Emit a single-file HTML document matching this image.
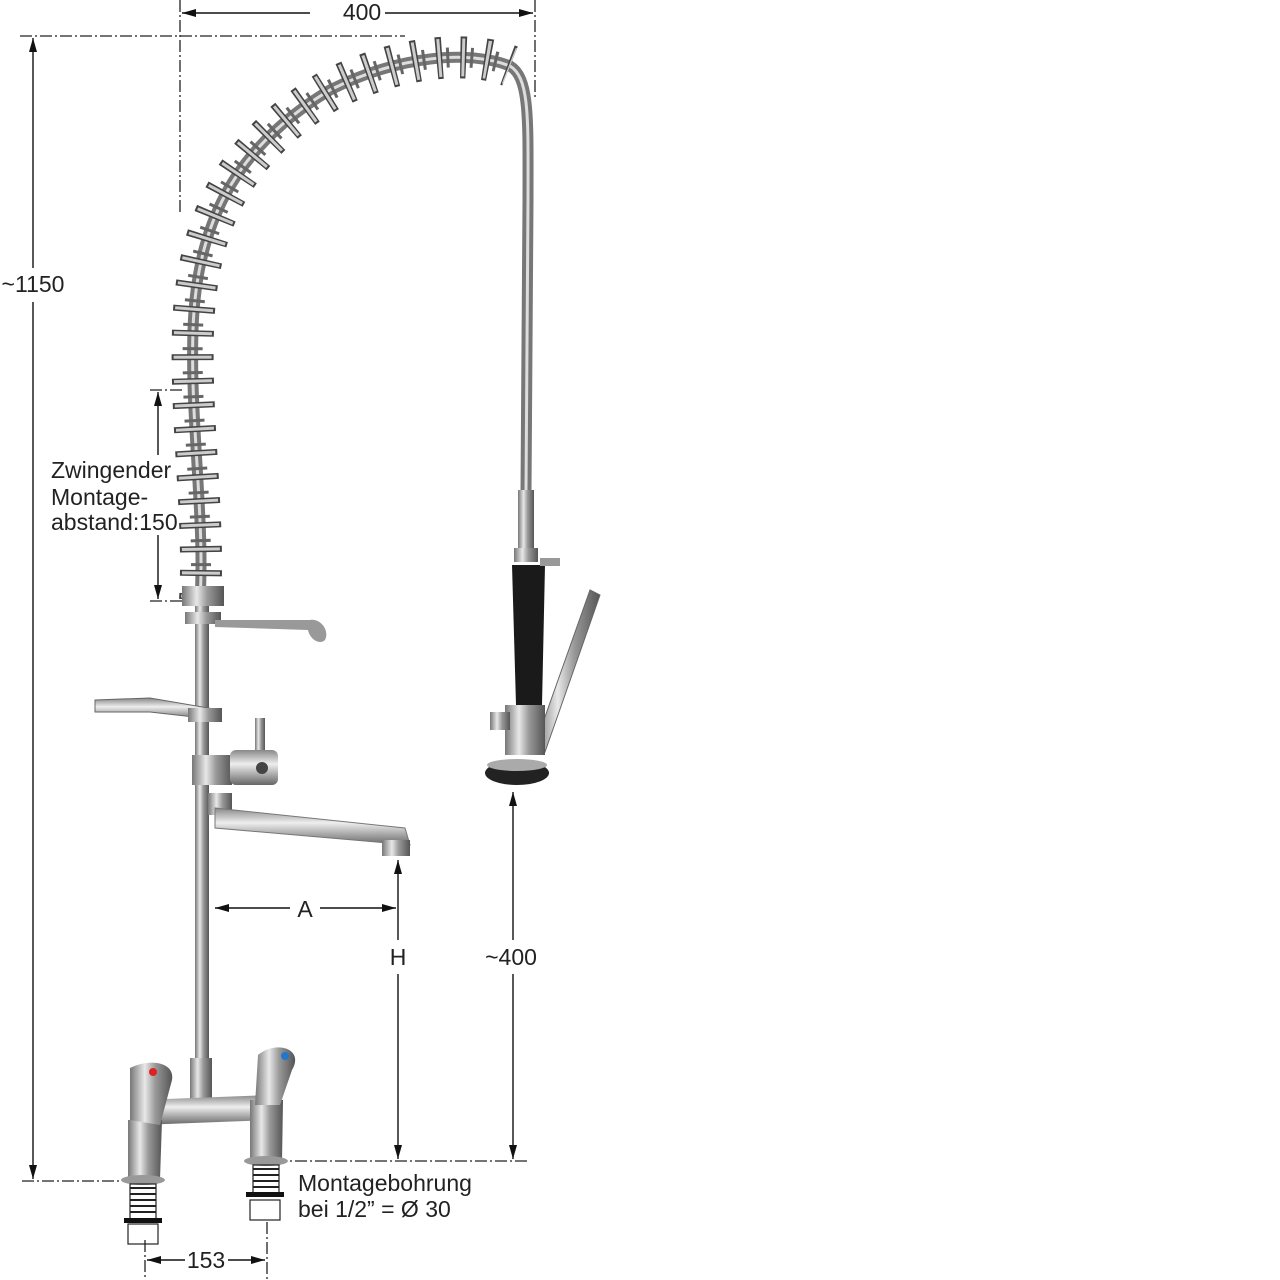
<!DOCTYPE html>
<html><head><style>
html,body{margin:0;padding:0;background:#fff;}
svg{display:block;}
text{font-family:"Liberation Sans",Arial,sans-serif;font-size:23px;fill:#222;}
</style></head><body>
<svg width="1280" height="1280" viewBox="0 0 1280 1280" xmlns="http://www.w3.org/2000/svg">
<defs>
<marker id="ar" markerWidth="14" markerHeight="8" refX="14" refY="4" orient="auto" markerUnits="userSpaceOnUse">
<path d="M0,0 L14,4 L0,8 Z" fill="#111"/></marker>
<linearGradient id="chrome" x1="0" x2="1" y1="0" y2="0">
<stop offset="0" stop-color="#777"/><stop offset="0.35" stop-color="#e8e8e8"/><stop offset="0.6" stop-color="#999"/><stop offset="1" stop-color="#555"/></linearGradient>
<linearGradient id="chromeV" x1="0" x2="0" y1="0" y2="1">
<stop offset="0" stop-color="#888"/><stop offset="0.4" stop-color="#eee"/><stop offset="1" stop-color="#666"/></linearGradient>
</defs>

<g stroke="#222" stroke-width="1.3" fill="none" stroke-dasharray="12,3,2,3">
<line x1="180" y1="0" x2="180" y2="215"/>
<line x1="535" y1="0" x2="535" y2="100"/>
<line x1="20" y1="36" x2="405" y2="36"/>
<line x1="22" y1="1181" x2="125" y2="1181"/>
<line x1="275" y1="1161" x2="530" y2="1161"/>
<line x1="150" y1="390" x2="185" y2="390"/>
<line x1="150" y1="601" x2="185" y2="601"/>
<line x1="145" y1="1240" x2="145" y2="1280"/>
<line x1="267" y1="1222" x2="267" y2="1280"/>
</g>
<g stroke="#111" stroke-width="1.4" fill="none">
<line x1="310" y1="13" x2="182" y2="13" marker-end="url(#ar)"/>
<line x1="385" y1="13" x2="533" y2="13" marker-end="url(#ar)"/>
<line x1="33" y1="268" x2="33" y2="38" marker-end="url(#ar)"/>
<line x1="33" y1="302" x2="33" y2="1179" marker-end="url(#ar)"/>
<line x1="158" y1="455" x2="158" y2="392" marker-end="url(#ar)"/>
<line x1="158" y1="535" x2="158" y2="599" marker-end="url(#ar)"/>
<line x1="290" y1="908" x2="215" y2="908" marker-end="url(#ar)"/>
<line x1="320" y1="908" x2="396" y2="908" marker-end="url(#ar)"/>
<line x1="398" y1="940" x2="398" y2="860" marker-end="url(#ar)"/>
<line x1="398" y1="974" x2="398" y2="1159" marker-end="url(#ar)"/>
<line x1="513" y1="940" x2="513" y2="792" marker-end="url(#ar)"/>
<line x1="513" y1="974" x2="513" y2="1159" marker-end="url(#ar)"/>
<line x1="185" y1="1260" x2="147" y2="1260" marker-end="url(#ar)"/>
<line x1="228" y1="1260" x2="265" y2="1260" marker-end="url(#ar)"/>
</g>
<text x="362" y="20" text-anchor="middle">400</text>
<text x="33" y="292" text-anchor="middle">~1150</text>
<text x="51" y="478">Zwingender</text>
<text x="51" y="505">Montage-</text>
<text x="51" y="530">abstand:150</text>
<text x="305" y="917" text-anchor="middle">A</text>
<text x="398" y="965" text-anchor="middle">H</text>
<text x="511" y="965" text-anchor="middle">~400</text>
<text x="206" y="1268" text-anchor="middle">153</text>
<text x="298" y="1191">Montagebohrung</text>
<text x="298" y="1217">bei 1/2” = Ø 30</text>

<path d="M200,600 C205,520 190,420 193,330 C196,230 230,150 330,90 C400,55 470,50 510,66 C530,78 528,120 528,200 L526,490" fill="none" stroke="#777" stroke-width="11"/>
<path d="M200,600 C205,520 190,420 193,330 C196,230 230,150 330,90 C400,55 470,50 510,66 C530,78 528,120 528,200 L526,490" fill="none" stroke="#ddd" stroke-width="3"/>
<path d="M200,600 C205,520 190,420 193,330 C196,230 230,150 330,90 C400,55 470,50 510,66" fill="none" stroke="#444" stroke-width="42" stroke-dasharray="6,18"/>
<path d="M200,600 C205,520 190,420 193,330 C196,230 230,150 330,90 C400,55 470,50 510,66" fill="none" stroke="#ccc" stroke-width="38" stroke-dasharray="3,21" stroke-dashoffset="-1.5"/>
<path d="M200,600 C205,520 190,420 193,330 C196,230 230,150 330,90 C400,55 470,50 510,66" fill="none" stroke="#666" stroke-width="20" stroke-dasharray="3,21" stroke-dashoffset="-10"/>
<rect x="518" y="490" width="16" height="60" fill="url(#chrome)"/>
<rect x="514" y="548" width="24" height="14" fill="url(#chrome)"/>
<path d="M512,565 L545,565 L542,705 L516,705 Z" fill="#1a1a1a"/>
<rect x="540" y="558" width="20" height="8" fill="#999"/>
<path d="M590,590 L600,595 L545,752 L535,745 Z" fill="url(#chrome)" stroke="#666"/>
<rect x="505" y="705" width="40" height="50" fill="url(#chrome)"/>
<rect x="490" y="712" width="20" height="18" fill="url(#chrome)"/>
<ellipse cx="517" cy="773" rx="32" ry="12" fill="#222"/>
<ellipse cx="517" cy="765" rx="30" ry="6" fill="#aaa"/>

<rect x="195" y="600" width="14" height="470" fill="url(#chrome)"/>
<rect x="182" y="586" width="42" height="20" fill="url(#chrome)"/>
<rect x="185" y="612" width="36" height="12" fill="url(#chrome)"/>
<path d="M215,620 L310,620 C320,618 330,630 325,640 C320,645 310,640 308,630 L215,627 Z" fill="#999"/>
<path d="M95,700 L150,698 L220,710 L220,720 L150,712 L95,712 Z" fill="url(#chromeV)" stroke="#666"/>
<rect x="188" y="708" width="34" height="14" fill="url(#chrome)"/>
<rect x="255" y="718" width="10" height="40" fill="url(#chrome)"/>
<rect x="192" y="755" width="40" height="30" fill="url(#chrome)"/>
<rect x="230" y="750" width="48" height="35" rx="6" fill="url(#chromeV)"/>
<circle cx="262" cy="768" r="6" fill="#444"/>
<rect x="208" y="793" width="24" height="22" fill="url(#chrome)"/>
<path d="M215,808 L405,828 L410,845 L215,828 Z" fill="url(#chromeV)" stroke="#777"/>
<rect x="382" y="840" width="28" height="16" fill="url(#chrome)"/>

<rect x="190" y="1058" width="22" height="55" fill="url(#chrome)"/>
<path d="M140,1100 L270,1095 L272,1120 L140,1125 Z" fill="url(#chromeV)"/>
<path d="M128,1120 L162,1120 L160,1180 L128,1180 Z" fill="url(#chrome)"/>
<path d="M250,1100 L283,1100 L282,1162 L250,1162 Z" fill="url(#chrome)"/>
<path d="M130,1068 C150,1058 175,1062 172,1080 L160,1125 L130,1120 Z" fill="url(#chrome)"/>
<path d="M258,1055 C275,1040 305,1048 292,1070 L280,1105 L255,1105 Z" fill="url(#chrome)"/>
<circle cx="153" cy="1072" r="4" fill="#d22"/>
<circle cx="285" cy="1056" r="4" fill="#27c"/>
<ellipse cx="143" cy="1180" rx="22" ry="5" fill="#999"/>
<ellipse cx="266" cy="1161" rx="22" ry="5" fill="#999"/>
<g fill="none" stroke="#222" stroke-width="1.2">
<rect x="130" y="1184" width="26" height="36"/>
<rect x="253" y="1165" width="26" height="30"/>
<rect x="128" y="1224" width="30" height="20"/>
<rect x="250" y="1200" width="30" height="20"/>
</g>
<g stroke="#222" stroke-width="2">
<path d="M130,1188 H156 M130,1194 H156 M130,1200 H156 M130,1206 H156 M130,1212 H156"/>
<path d="M253,1169 H279 M253,1175 H279 M253,1181 H279 M253,1187 H279"/>
</g>
<rect x="124" y="1218" width="38" height="5" fill="#111"/>
<rect x="246" y="1192" width="38" height="5" fill="#111"/>
</svg>
</body></html>
